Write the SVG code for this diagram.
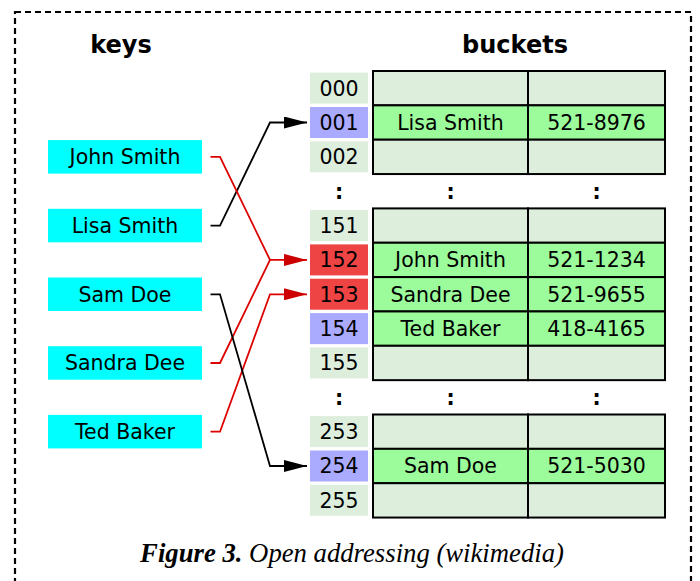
<svg xmlns="http://www.w3.org/2000/svg" width="700" height="581" viewBox="0 0 700 581">
<style>
.t{font-family:"DejaVu Sans",sans-serif;font-size:20.5px;fill:#000;text-anchor:middle}
.h{font-family:"DejaVu Sans",sans-serif;font-size:24px;font-weight:bold;fill:#000;text-anchor:middle}
.d{font-family:"DejaVu Sans",sans-serif;font-size:20.5px;font-weight:bold;fill:#000;text-anchor:middle}
.key{fill:#00ffff}
.ig{fill:#ddeedd}
.ib{fill:#aaaaff}
.ir{fill:#ee4444}
.ce{fill:#ddeedd;stroke:#000;stroke-width:2}
.cf{fill:#9cfc9c;stroke:#000;stroke-width:2}
.lk{fill:none;stroke:#000;stroke-width:1.8}
.lr{fill:none;stroke:#dd0000;stroke-width:1.8}
.cap{font-family:"Liberation Serif",serif;font-size:26.7px;font-style:italic;text-anchor:middle}
</style>
<defs>
<marker id="ak" viewBox="0 0 23 12" refX="23" refY="6" markerWidth="23" markerHeight="12" markerUnits="userSpaceOnUse" orient="auto"><path d="M0,0 L23,6 L0,12 Z" fill="#000"/></marker>
<marker id="ar" viewBox="0 0 23 12" refX="23" refY="6" markerWidth="23" markerHeight="12" markerUnits="userSpaceOnUse" orient="auto"><path d="M0,0 L23,6 L0,12 Z" fill="#cc0000"/></marker>
</defs>
<rect x="15" y="12" width="676" height="600" fill="none" stroke="#000" stroke-width="2.2" stroke-dasharray="6 4"/>
<text class="h" x="121" y="53">keys</text>
<text class="h" x="515" y="53">buckets</text>

<g id="key-john"><rect class="key" x="48" y="140.1" width="154" height="33.5"/><text class="t" x="125" y="164.3">John Smith</text></g>
<g id="key-lisa"><rect class="key" x="48" y="208.8" width="154" height="33.5"/><text class="t" x="125" y="233">Lisa Smith</text></g>
<g id="key-sam"><rect class="key" x="48" y="277.5" width="154" height="33.5"/><text class="t" x="125" y="301.7">Sam Doe</text></g>
<g id="key-sandra"><rect class="key" x="48" y="346.2" width="154" height="33.5"/><text class="t" x="125" y="370.4">Sandra Dee</text></g>
<g id="key-ted"><rect class="key" x="48" y="414.9" width="154" height="33.5"/><text class="t" x="125" y="439.1">Ted Baker</text></g>

<g id="bucket-000"><rect class="ig" x="310" y="72.6" width="58" height="31"/><text class="t" x="339" y="95.5">000</text><rect class="ce" x="373" y="71" width="155" height="34.35"/><rect class="ce" x="528" y="71" width="137" height="34.35"/></g>
<g id="bucket-001"><rect class="ib" x="310" y="107" width="58" height="31"/><text class="t" x="339" y="129.9">001</text><rect class="cf" x="373" y="105.35" width="155" height="34.35"/><rect class="cf" x="528" y="105.35" width="137" height="34.35"/><text class="t" x="450.5" y="129.9">Lisa Smith</text><text class="t" x="596.5" y="129.9">521-8976</text></g>
<g id="bucket-002"><rect class="ig" x="310" y="141.3" width="58" height="31"/><text class="t" x="339" y="164.2">002</text><rect class="ce" x="373" y="139.7" width="155" height="34.35"/><rect class="ce" x="528" y="139.7" width="137" height="34.35"/></g>
<g id="gap-1"><text class="d" x="339" y="198.5">:</text><text class="d" x="450.5" y="198.5">:</text><text class="d" x="596.5" y="198.5">:</text></g>
<g id="bucket-151"><rect class="ig" x="310" y="210" width="58" height="31"/><text class="t" x="339" y="232.9">151</text><rect class="ce" x="373" y="208.4" width="155" height="34.35"/><rect class="ce" x="528" y="208.4" width="137" height="34.35"/></g>
<g id="bucket-152"><rect class="ir" x="310" y="244.4" width="58" height="31"/><text class="t" x="339" y="267.3">152</text><rect class="cf" x="373" y="242.75" width="155" height="34.35"/><rect class="cf" x="528" y="242.75" width="137" height="34.35"/><text class="t" x="450.5" y="267.3">John Smith</text><text class="t" x="596.5" y="267.3">521-1234</text></g>
<g id="bucket-153"><rect class="ir" x="310" y="278.7" width="58" height="31"/><text class="t" x="339" y="301.6">153</text><rect class="cf" x="373" y="277.1" width="155" height="34.35"/><rect class="cf" x="528" y="277.1" width="137" height="34.35"/><text class="t" x="450.5" y="301.6">Sandra Dee</text><text class="t" x="596.5" y="301.6">521-9655</text></g>
<g id="bucket-154"><rect class="ib" x="310" y="313.1" width="58" height="31"/><text class="t" x="339" y="336">154</text><rect class="cf" x="373" y="311.45" width="155" height="34.35"/><rect class="cf" x="528" y="311.45" width="137" height="34.35"/><text class="t" x="450.5" y="336">Ted Baker</text><text class="t" x="596.5" y="336">418-4165</text></g>
<g id="bucket-155"><rect class="ig" x="310" y="347.4" width="58" height="31"/><text class="t" x="339" y="370.3">155</text><rect class="ce" x="373" y="345.8" width="155" height="34.35"/><rect class="ce" x="528" y="345.8" width="137" height="34.35"/></g>
<g id="gap-2"><text class="d" x="339" y="404.6">:</text><text class="d" x="450.5" y="404.6">:</text><text class="d" x="596.5" y="404.6">:</text></g>
<g id="bucket-253"><rect class="ig" x="310" y="416.1" width="58" height="31"/><text class="t" x="339" y="439">253</text><rect class="ce" x="373" y="414.5" width="155" height="34.35"/><rect class="ce" x="528" y="414.5" width="137" height="34.35"/></g>
<g id="bucket-254"><rect class="ib" x="310" y="450.5" width="58" height="31"/><text class="t" x="339" y="473.4">254</text><rect class="cf" x="373" y="448.85" width="155" height="34.35"/><rect class="cf" x="528" y="448.85" width="137" height="34.35"/><text class="t" x="450.5" y="473.4">Sam Doe</text><text class="t" x="596.5" y="473.4">521-5030</text></g>
<g id="bucket-255"><rect class="ig" x="310" y="484.8" width="58" height="31"/><text class="t" x="339" y="507.7">255</text><rect class="ce" x="373" y="483.2" width="155" height="34.35"/><rect class="ce" x="528" y="483.2" width="137" height="34.35"/></g>

<g id="connectors">
<path class="lk" d="M210.5,225.6 H220 L270,122.5 H307" marker-end="url(#ak)"/>
<path class="lr" d="M210.5,156.9 H220 L270,259.9 H307" marker-end="url(#ar)"/>
<path class="lr" d="M210.5,363 H220 L270,259.9"/>
<path class="lr" d="M210.5,431.7 H220 L270,294.3 H307" marker-end="url(#ar)"/>
<path class="lk" d="M210.5,294.3 H220 L270,466 H307" marker-end="url(#ak)"/>
</g>

<text class="cap" x="352" y="561.5"><tspan font-weight="bold">Figure 3.</tspan> Open addressing (wikimedia)</text>
</svg>
